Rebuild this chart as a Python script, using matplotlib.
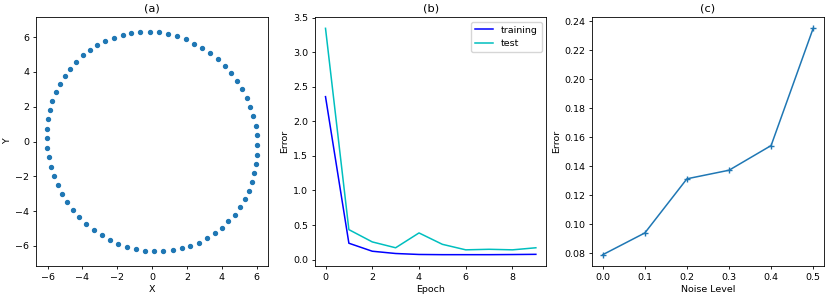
import matplotlib
matplotlib.use("Agg")
import matplotlib.pyplot as plt

# Panel (a): points
circle_x = [-0.13, -0.67, -1.19, -1.70, -2.20, -2.68, -3.14, -3.58, -3.98, -4.36,
            -4.71, -5.02, -5.29, -5.54, -5.73, -5.88, -5.98, -6.03, -6.05, -6.01,
            -5.94, -5.82, -5.65, -5.42, -5.17, -4.89, -4.56, -4.20, -3.77, -3.35,
            -2.89, -2.43, -1.95, -1.46, -0.94, -0.40, 0.11, 0.65, 1.17, 1.69,
            2.18, 2.68, 3.14, 3.60, 4.00, 4.38, 4.73, 5.02, 5.31, 5.54,
            5.71, 5.86, 5.96, 6.02, 6.03, 6.00, 5.94, 5.81, 5.64, 5.42,
            5.15, 4.87, 4.54, 4.18, 3.77, 3.35, 2.89, 2.43, 1.93, 1.44,
            0.92, 0.40]
circle_y = [6.31, 6.29, 6.25, 6.14, 5.98, 5.79, 5.54, 5.26, 4.95, 4.59,
            4.19, 3.77, 3.31, 2.83, 2.33, 1.80, 1.28, 0.73, 0.19, -0.36,
            -0.92, -1.45, -1.99, -2.50, -3.00, -3.46, -3.92, -4.34, -4.72, -5.07,
            -5.37, -5.64, -5.87, -6.06, -6.18, -6.27, -6.31, -6.31, -6.25, -6.14,
            -6.00, -5.81, -5.56, -5.28, -4.95, -4.59, -4.21, -3.77, -3.31, -2.83,
            -2.33, -1.82, -1.28, -0.75, -0.19, 0.36, 0.92, 1.45, 1.99, 2.49,
            3.00, 3.46, 3.92, 4.34, 4.72, 5.07, 5.37, 5.62, 5.87, 6.06,
            6.18, 6.27]

# Panel (b)
epochs = [0, 1, 2, 3, 4, 5, 6, 7, 8, 9]
train_err = [2.36, 0.236, 0.12, 0.087, 0.073, 0.07, 0.07, 0.07, 0.072, 0.075]
test_err = [3.35, 0.433, 0.255, 0.17, 0.385, 0.22, 0.14, 0.148, 0.14, 0.17]

# Panel (c)
noise_levels = [0.0, 0.1, 0.2, 0.3, 0.4, 0.5]
noise_err = [0.079, 0.094, 0.1313, 0.1372, 0.1542, 0.235]

plt.rcParams.update({
    "font.size": 6.8,
    "axes.linewidth": 0.6,
    "xtick.major.width": 0.6,
    "ytick.major.width": 0.6,
    "xtick.major.size": 2.5,
    "ytick.major.size": 2.5,
    "xtick.major.pad": 2.5,
    "ytick.major.pad": 2.5,
    "axes.titlepad": 4,
    "axes.labelpad": 2.5,
})

fig = plt.figure(figsize=(8.30, 2.99), dpi=100)
bottom = 0.1104
height = 0.9431 - 0.1104
width = 0.2788
ax1 = fig.add_axes([0.0437, bottom, width, height])
ax2 = fig.add_axes([0.3795, bottom, width, height])
ax3 = fig.add_axes([0.7136, bottom, width, height])

ax1.scatter(circle_x, circle_y, s=8, color="C0")
ax1.set_ylim(-7.16, 7.16)
ax1.set_title("(a)")
ax1.set_xlabel("X")
ax1.set_ylabel("Y")

ax2.plot(epochs, train_err, color="b", lw=1.1, label="training")
ax2.plot(epochs, test_err, color="c", lw=1.1, label="test")
ax2.set_title("(b)")
ax2.set_xlabel("Epoch")
ax2.set_ylabel("Error")
ax2.legend(loc="upper right")

ax3.plot(noise_levels, noise_err, color="C0", marker="+", lw=1.1, ms=5)
ax3.set_title("(c)")
ax3.set_xlabel("Noise Level")
ax3.set_ylabel("Error")

fig.savefig("out.png", dpi=100)
